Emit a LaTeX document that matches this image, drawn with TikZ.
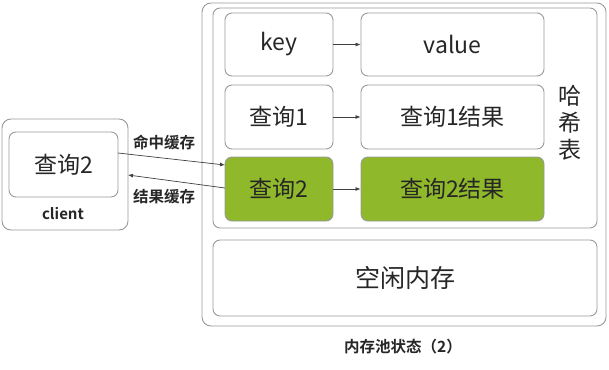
\documentclass[tikz,border=0pt]{standalone}
\usepackage{fontspec}
\setmainfont{Noto Sans CJK SC}
\newfontfamily\cjkb{Noto Sans CJK SC Bold}
\usetikzlibrary{arrows.meta}
\definecolor{boxgray}{HTML}{9A9A9A}
\definecolor{leaf}{HTML}{8FB82A}
\tikzset{
  rbox/.style={draw=boxgray, line width=0.9pt, rounded corners=7pt, fill=white},
  gbox/.style={rbox, fill=leaf},
  lbl/.style={font=\fontsize{23}{26}\selectfont, text=black!85},
  blbl/.style={font=\cjkb\fontsize{15.5}{18}\selectfont, text=black!85},
  conn/.style={draw=black!75, line width=0.7pt, -{Latex[length=5pt,width=4pt]}}
}
\begin{document}
\begin{tikzpicture}[x=1pt,y=-1pt]
\useasboundingbox (0,0) rectangle (609,369);
% outer pool
\draw[rbox, rounded corners=9pt] (202,3) rectangle (606,326);
\draw[rbox] (213,8) rectangle (597,228);
% rows
\node[rbox, minimum width=108pt, minimum height=63pt, lbl, inner sep=0pt] (k) at (279,44.5) {key};
\node[rbox, minimum width=183pt, minimum height=63pt, lbl, inner sep=0pt] (v) at (452.5,44.5) {value};
\node[rbox, minimum width=108pt, minimum height=64pt, lbl, inner sep=0pt] (q1) at (279,117) {查询1};
\node[rbox, minimum width=183pt, minimum height=64pt, lbl, inner sep=0pt] (r1) at (452.5,117) {查询1结果};
\node[gbox, minimum width=108pt, minimum height=64pt, lbl, inner sep=0pt] (q2) at (279,189) {查询2};
\node[gbox, minimum width=183pt, minimum height=64pt, lbl, inner sep=0pt] (r2) at (452.5,189) {查询2结果};
\node[lbl, align=center, inner sep=0pt, font=\fontsize{23}{27}\selectfont] (hx) at (570,123) {哈\\希\\表};
\draw[conn] (k) -- (v);
\draw[conn] (q1) -- (r1);
\draw[conn] (q2) -- (r2);
% free memory
\node[rbox, minimum width=384pt, minimum height=76pt, lbl, inner sep=0pt, font=\fontsize{25}{28}\selectfont] (free) at (405,278) {空闲内存};
\node[blbl] (cap) at (403,347) {内存池状态（2）};
% client
\draw[rbox, rounded corners=9pt] (2,119) rectangle (128,230);
\coordinate (cr) at (128,175);
\node[rbox, minimum width=109pt, minimum height=65pt, lbl, inner sep=0pt] (c2) at (63.5,164.5) {查询2};
\node[blbl, font=\cjkb\fontsize{15}{17}\selectfont] (cl) at (63,214) {client};
% connectors
\coordinate (a1s) at (118,153);
\coordinate (a1e) at (225,165);
\draw[conn] (a1s) -- (a1e);
\coordinate (a2s) at (225,188);
\draw[conn] (a2s) -- (cr);
\node[blbl] (hit) at (164,142) {命中缓存};
\node[blbl] (res) at (164,197) {结果缓存};
\end{tikzpicture}
\end{document}
